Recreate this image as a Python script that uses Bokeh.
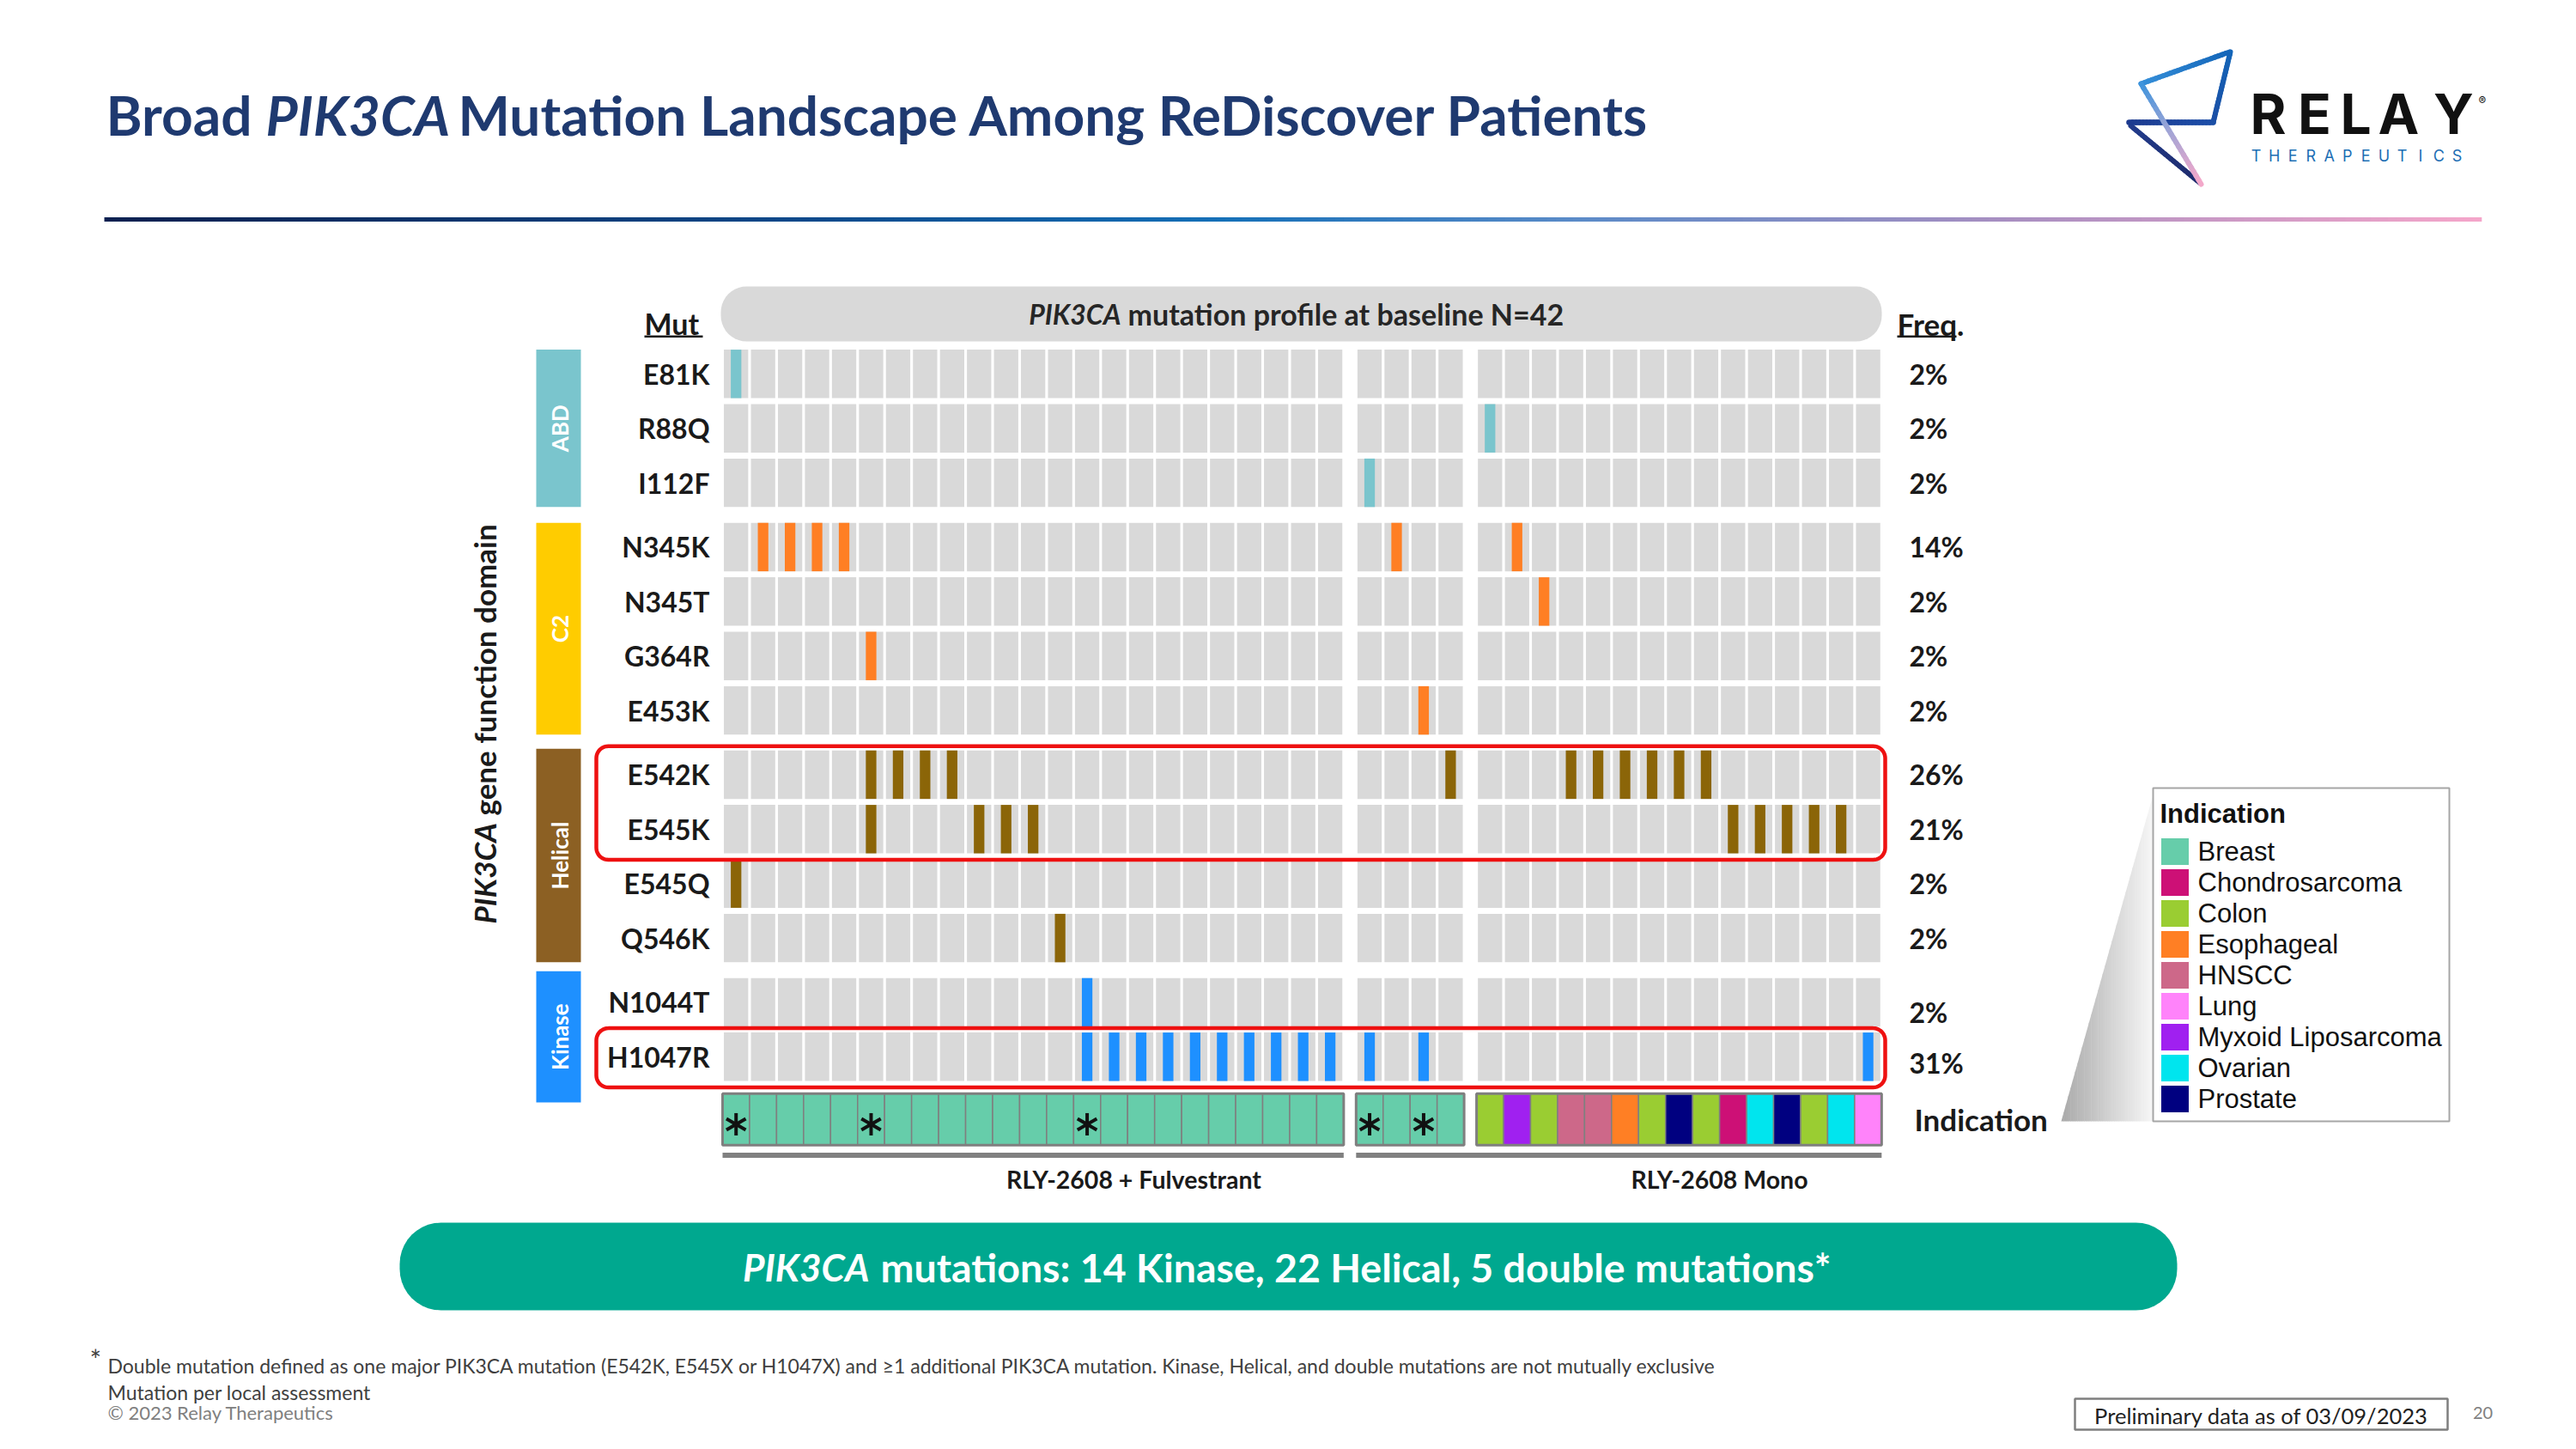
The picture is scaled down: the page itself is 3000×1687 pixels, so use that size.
import math
from bokeh.plotting import figure
from bokeh.models import Range1d, Label
from bokeh.core.properties import value
from bokeh.embed import file_html
from bokeh.resources import INLINE

# ---------------- data ----------------
mutations = ["E81K", "R88Q", "I112F", "N345K", "N345T", "G364R", "E453K",
             "E542K", "E545K", "E545Q", "Q546K", "N1044T", "H1047R"]
mutation_domain = ["ABD", "ABD", "ABD", "C2", "C2", "C2", "C2",
                   "Helical", "Helical", "Helical", "Helical", "Kinase", "Kinase"]
domains = ["ABD", "C2", "Helical", "Kinase"]
n_patients = 42
patient_block = [0] * 23 + [1] * 4 + [2] * 15
cohorts = ["RLY-2608 + Fulvestrant", "RLY-2608 Mono"]
patient_cohort = [0] * 23 + [1] * 19
indications = ["Breast", "Chondrosarcoma", "Colon", "Esophageal", "HNSCC", "Lung",
               "Myxoid Liposarcoma", "Ovarian", "Prostate"]
patient_indication = (["Breast"] * 27 +
                      ["Colon", "Myxoid Liposarcoma", "Colon", "HNSCC", "HNSCC", "Esophageal",
                       "Colon", "Prostate", "Colon", "Chondrosarcoma", "Ovarian", "Prostate",
                       "Colon", "Ovarian", "Lung"])
mutated_patients = {
    "E81K": [0],
    "R88Q": [27],
    "I112F": [23],
    "N345K": [1, 2, 3, 4, 24, 28],
    "N345T": [29],
    "G364R": [5],
    "E453K": [25],
    "E542K": [5, 6, 7, 8, 26, 30, 31, 32, 33, 34, 35],
    "E545K": [5, 9, 10, 11, 36, 37, 38, 39, 40],
    "E545Q": [0],
    "Q546K": [12],
    "N1044T": [13],
    "H1047R": [13, 14, 15, 16, 17, 18, 19, 20, 21, 22, 23, 25, 41],
}
highlight_rows = [["E542K", "E545K"], ["H1047R"]]

# ---------------- styles ----------------
domain_color = {"ABD": "#7AC5CD", "C2": "#FFCC00", "Helical": "#8C6023", "Kinase": "#1E90FF"}
mut_color = {"ABD": "#7AC5CD", "C2": "#FF7F24", "Helical": "#8B6508", "Kinase": "#1E90FF"}
ind_color = {"Breast": "#66CDAA", "Chondrosarcoma": "#CD1076", "Colon": "#9ACD32",
             "Esophageal": "#FF7F24", "HNSCC": "#CD6889", "Lung": "#FF83FA",
             "Myxoid Liposarcoma": "#A020F0", "Ovarian": "#00E5EE", "Prostate": "#000080"}

W, H = 2984, 1671
COL_X0, COL_W, GROUP_GAP = 841.0, 31.45, 0.46
ROW_Y0, ROW_H, DOMAIN_GAP = 434.8, 63.4, 0.18
CELL_W, CELL_H, MUT_W = 0.9, 0.89, 0.39
IND_ROW, IND_H = 13.69, 0.95
FONT = "Lato"
LFONT = "Liberation Sans"
INK = "#1A1A1A"

p = figure(width=W, height=H, x_range=Range1d(0, W), y_range=Range1d(H, 0),
           output_backend="svg", toolbar_location=None, min_border=0,
           x_axis_location=None, y_axis_location=None,
           background_fill_color="white", border_fill_color="white", outline_line_color=None)
p.grid.visible = False
p.title.visible = False
p.extra_x_ranges = {"cols": Range1d((0 - COL_X0) / COL_W, (W - COL_X0) / COL_W)}
p.extra_y_ranges = {"rows": Range1d((H - ROW_Y0) / ROW_H, (0 - ROW_Y0) / ROW_H)}

col_u = [i + 0.5 + GROUP_GAP * patient_block[i] for i in range(n_patients)]
row_r = [j + DOMAIN_GAP * domains.index(d) for j, d in enumerate(mutation_domain)]


def row_px(r):
    return ROW_Y0 + r * ROW_H


def hex2rgb(h):
    h = h.lstrip("#")
    return tuple(int(h[k:k + 2], 16) for k in (0, 2, 4))


def grad(stops, t):
    for (t0, c0), (t1, c1) in zip(stops[:-1], stops[1:]):
        if t <= t1:
            f = (t - t0) / (t1 - t0) if t1 > t0 else 0.0
            a, b = hex2rgb(c0), hex2rgb(c1)
            return "#%02x%02x%02x" % tuple(int(round(a[k] + (b[k] - a[k]) * f)) for k in range(3))
    return stops[-1][1]


def rounded(x0, y0, x1, y1, r, n=10):
    xs, ys = [], []
    for cx, cy, a0 in ((x1 - r, y0 + r, -90), (x1 - r, y1 - r, 0), (x0 + r, y1 - r, 90), (x0 + r, y0 + r, 180)):
        for k in range(n + 1):
            a = math.radians(a0 + 90 * k / n)
            xs.append(cx + r * math.cos(a))
            ys.append(cy + r * math.sin(a))
    return xs, ys


def lab(x, y, text, size, style="normal", color=INK, font=FONT, align="left",
        angle=0.0, y_range_name="default"):
    p.add_layout(Label(x=x, y=y, text=text, text_font=font, text_font_size="%spx" % size,
                       text_font_style=style, text_color=color, text_align=align,
                       text_baseline="middle", angle=angle, y_range_name=y_range_name))


def grad_line(x0, y0, x1, y1, stops, width, n=24):
    xs, ys, cs = [], [], []
    for k in range(n):
        t0, t1 = k / n, (k + 1) / n
        xs.append([x0 + (x1 - x0) * t0, x0 + (x1 - x0) * t1])
        ys.append([y0 + (y1 - y0) * t0, y0 + (y1 - y0) * t1])
        cs.append(grad(stops, (t0 + t1) / 2))
    p.multi_line(xs, ys, line_color=cs, line_width=width, line_cap="round", line_join="round")


# ---------------- header ----------------
TITLE_C = "#1F3A70"
lab(293, 133, "Broad", 64, "bold", TITLE_C, align="right")
lab(309, 133, "PIK3CA", 64, "bold italic", TITLE_C)
lab(533, 133, "Mutation Landscape Among ReDiscover Patients", 64, "bold", TITLE_C)

rule_stops = [(0.0, "#0A2050"), (0.3, "#0B4A8C"), (0.47, "#1570B8"), (0.62, "#5B8BC8"),
              (0.8, "#A88FC1"), (1.0, "#F5A6CA")]
NR = 280
rx = [121 + (2889 - 121) * k / NR for k in range(NR + 1)]
p.quad(left=rx[:-1], right=[v + 0.8 for v in rx[1:]], top=252.5, bottom=257.5,
       fill_color=[grad(rule_stops, (k + 0.5) / NR) for k in range(NR)], line_color=None)

# logo
grad_line(2481, 146, 2561, 212, [(0, "#223C8C"), (1, "#1E2B6C")], 6)
grad_line(2479, 142, 2577, 142, [(0, "#1D3A8E"), (1, "#1C4DA8")], 6.5)
grad_line(2493, 97, 2596, 60, [(0, "#3690DA"), (1, "#1466B9")], 6)
grad_line(2597, 60, 2577, 142, [(0, "#1466B9"), (1, "#1B4FA5")], 6)
grad_line(2493, 97, 2563, 214, [(0, "#3A93DC"), (0.5, "#A3A5D6"), (1, "#F6A8C9")], 6)
for ch, cx in zip("RELAY", [2641, 2695, 2743, 2793, 2857]):
    lab(cx, 132, ch, 64, "bold", "#111111", font="Inter", align="center")
lab(2886, 116, "®", 13, "normal", "#111111", font="Inter")
for k, ch in enumerate("THERAPEUTICS"):
    lab(2627 + k * (2861 - 2627) / 11, 181, ch, 18, "normal", "#1C6EB4", font="Inter", align="center")

# ---------------- grid header ----------------
px_, py_ = rounded(839, 333, 2191, 397, 30)
p.patch(px_, py_, fill_color="#D9D9D9", line_color=None)
lab(1305, 365, "PIK3CA", 32, "bold italic", "#262626", align="right")
lab(1313, 365, "mutation profile at baseline N=42", 34, "bold", "#262626")
lab(750, 376, "Mut", 34, "bold", INK)
p.quad(left=750, right=818, top=390, bottom=392.5, fill_color=INK, line_color=None)
lab(2209, 376, "Freq.", 35, "bold", INK)
p.quad(left=2209, right=2278, top=390, bottom=392.5, fill_color=INK, line_color=None)

# ---------------- domain bars ----------------
ext_top = [0, 0, 2, 8]
ext_bot = [0, 0, 0, 25]
for k, d in enumerate(domains):
    idx = [j for j, dd in enumerate(mutation_domain) if dd == d]
    top = row_px(row_r[idx[0]]) - CELL_H / 2 * ROW_H - ext_top[k]
    bot = row_px(row_r[idx[-1]]) + CELL_H / 2 * ROW_H + ext_bot[k]
    p.quad(left=624, right=676, top=top, bottom=bot, fill_color=domain_color[d], line_color=None)
    lab(651, (top + bot) / 2, d, 26, "bold", "white", align="center", angle=math.pi / 2)

lab(563, 1075, "PIK3CA", 35, "bold italic", INK, angle=math.pi / 2)
lab(563, 949, "gene function domain", 35, "bold", INK, angle=math.pi / 2)

# ---------------- grid cells ----------------
bx, by = [], []
for j in range(len(mutations)):
    for i in range(n_patients):
        bx.append(col_u[i])
        by.append(row_r[j])
p.rect(x=bx, y=by, width=CELL_W, height=CELL_H, fill_color="#D9D9D9", line_color=None,
       x_range_name="cols", y_range_name="rows")

mx, my, mc = [], [], []
for j, m in enumerate(mutations):
    for i in mutated_patients[m]:
        mx.append(col_u[i])
        my.append(row_r[j])
        mc.append(mut_color[mutation_domain[j]])
p.rect(x=mx, y=my, width=MUT_W, height=CELL_H, fill_color=mc, line_color=None,
       x_range_name="cols", y_range_name="rows")

# row labels and frequencies
freq_dy = {"N1044T": 0.18, "H1047R": 0.12}
p.text(x=[826] * len(mutations), y=row_r, text=mutations, text_align="right", text_baseline="middle",
       text_font=value(FONT), text_font_style="bold", text_font_size=value("32px"), text_color=INK,
       y_range_name="rows")
freq_txt = ["%d%%" % round(100 * len(mutated_patients[m]) / n_patients) for m in mutations]
p.text(x=[2223] * len(mutations), y=[r + freq_dy.get(m, 0) for r, m in zip(row_r, mutations)],
       text=freq_txt, text_align="left", text_baseline="middle",
       text_font=value(FONT), text_font_style="bold", text_font_size=value("32px"), text_color=INK,
       y_range_name="rows")

# red highlight boxes
for grp in highlight_rows:
    rr = [row_r[mutations.index(m)] for m in grp]
    top = row_px(min(rr)) - CELL_H / 2 * ROW_H - 5
    bot = row_px(max(rr)) + CELL_H / 2 * ROW_H + 7.5
    hx, hy = rounded(694, top, 2195, bot, 14)
    p.patch(hx, hy, fill_color=None, line_color="#EE1111", line_width=4.5)

# ---------------- indication row ----------------
p.rect(x=col_u, y=[IND_ROW] * n_patients, width=1.0, height=IND_H,
       fill_color=[ind_color[k] for k in patient_indication], line_color="#7F7F7F", line_width=1.5,
       x_range_name="cols", y_range_name="rows")
for b in sorted(set(patient_block)):
    mem = [i for i in range(n_patients) if patient_block[i] == b]
    p.quad(left=col_u[mem[0]] - 0.5, right=col_u[mem[-1]] + 0.5,
           top=IND_ROW - IND_H / 2, bottom=IND_ROW + IND_H / 2,
           fill_color=None, line_color="#7F7F7F", line_width=3,
           x_range_name="cols", y_range_name="rows")

n_mut = [sum(i in v for v in mutated_patients.values()) for i in range(n_patients)]
dbl = [i for i in range(n_patients) if n_mut[i] >= 2]
for ang in (90, 30, -30):
    p.scatter(x=[col_u[i] for i in dbl], y=[IND_ROW + 0.09] * len(dbl), marker="dash", size=26,
              angle=math.radians(ang), line_color="#111111", line_width=4,
              x_range_name="cols", y_range_name="rows")
lab(2229, IND_ROW, "Indication", 35, "bold", INK, y_range_name="rows")

# cohort bars
c_left, c_right = [], []
for c in range(len(cohorts)):
    mem = [i for i in range(n_patients) if patient_cohort[i] == c]
    c_left.append(col_u[mem[0]] - 0.5)
    c_right.append(col_u[mem[-1]] + 0.5)
p.quad(left=c_left, right=c_right, top=1341.5, bottom=1347.5, fill_color="#808080", line_color=None,
       x_range_name="cols")
for c, cx in zip(cohorts, [1320, 2002]):
    lab(cx, 1372, c, 28.5, "bold", INK, align="center")

# ---------------- legend ----------------
NS = 40
sx, sy, sc = [], [], []
for k in range(NS):
    xa = 2400 + 107 * k / NS
    xb = 2400 + 107 * (k + 1) / NS + 0.5
    ya = 1305 - (xa - 2400) / 107 * 380
    yb = 1305 - (xb - 2400) / 107 * 380
    sx.append([xa, xb, xb, xa])
    sy.append([ya, yb, 1305, 1305])
    sc.append(grad([(0, "#A9A9A9"), (1, "#F7F7F7")], (k + 0.5) / NS))
p.patches(sx, sy, fill_color=sc, line_color=None)
p.quad(left=2507, right=2852, top=917, bottom=1305, fill_color="white", line_color="#A6A6A6",
       line_width=2)
lab(2515, 947, "Indication", 31, "bold", "#111111", font=LFONT)
ly = [991 + 36 * k for k in range(len(indications))]
p.quad(left=2516, right=2549, top=[y - 16 for y in ly], bottom=[y + 16 for y in ly],
       fill_color=[ind_color[k] for k in indications], line_color="white", line_width=1)
p.text(x=[2559] * len(indications), y=ly, text=indications, text_align="left", text_baseline="middle",
       text_font=value(LFONT), text_font_size=value("31px"), text_color="#111111")

# ---------------- banner ----------------
bxx, byy = rounded(465, 1423, 2535, 1525, 48)
p.patch(bxx, byy, fill_color="#00A88F", line_color=None)
lab(1012, 1474, "PIK3CA", 44, "bold italic", "white", align="right")
lab(1025, 1474, "mutations: 14 Kinase, 22 Helical, 5 double mutations*", 46.5, "bold", "white")

# ---------------- footnotes ----------------
lab(104, 1582, "*", 32, "normal", "#404040")
lab(125, 1589, "Double mutation defined as one major PIK3CA mutation (E542K, E545X or H1047X) and \u22651 "
               "additional PIK3CA mutation. Kinase, Helical, and double mutations are not mutually exclusive",
    23, "normal", "#404040")
lab(125, 1620, "Mutation per local assessment", 23, "normal", "#404040")
lab(125, 1644, "\u00a9 2023 Relay Therapeutics", 22, "normal", "#808080")
p.quad(left=2416, right=2850, top=1628, bottom=1664, fill_color="white", line_color="#7F7F7F",
       line_width=2.5)
lab(2633, 1647, "Preliminary data as of 03/09/2023", 25.5, "normal", "#222222", align="center")
lab(2891, 1644, "20", 20, "normal", "#808080", align="center")

open("out.html", "w").write(file_html(p, INLINE))
